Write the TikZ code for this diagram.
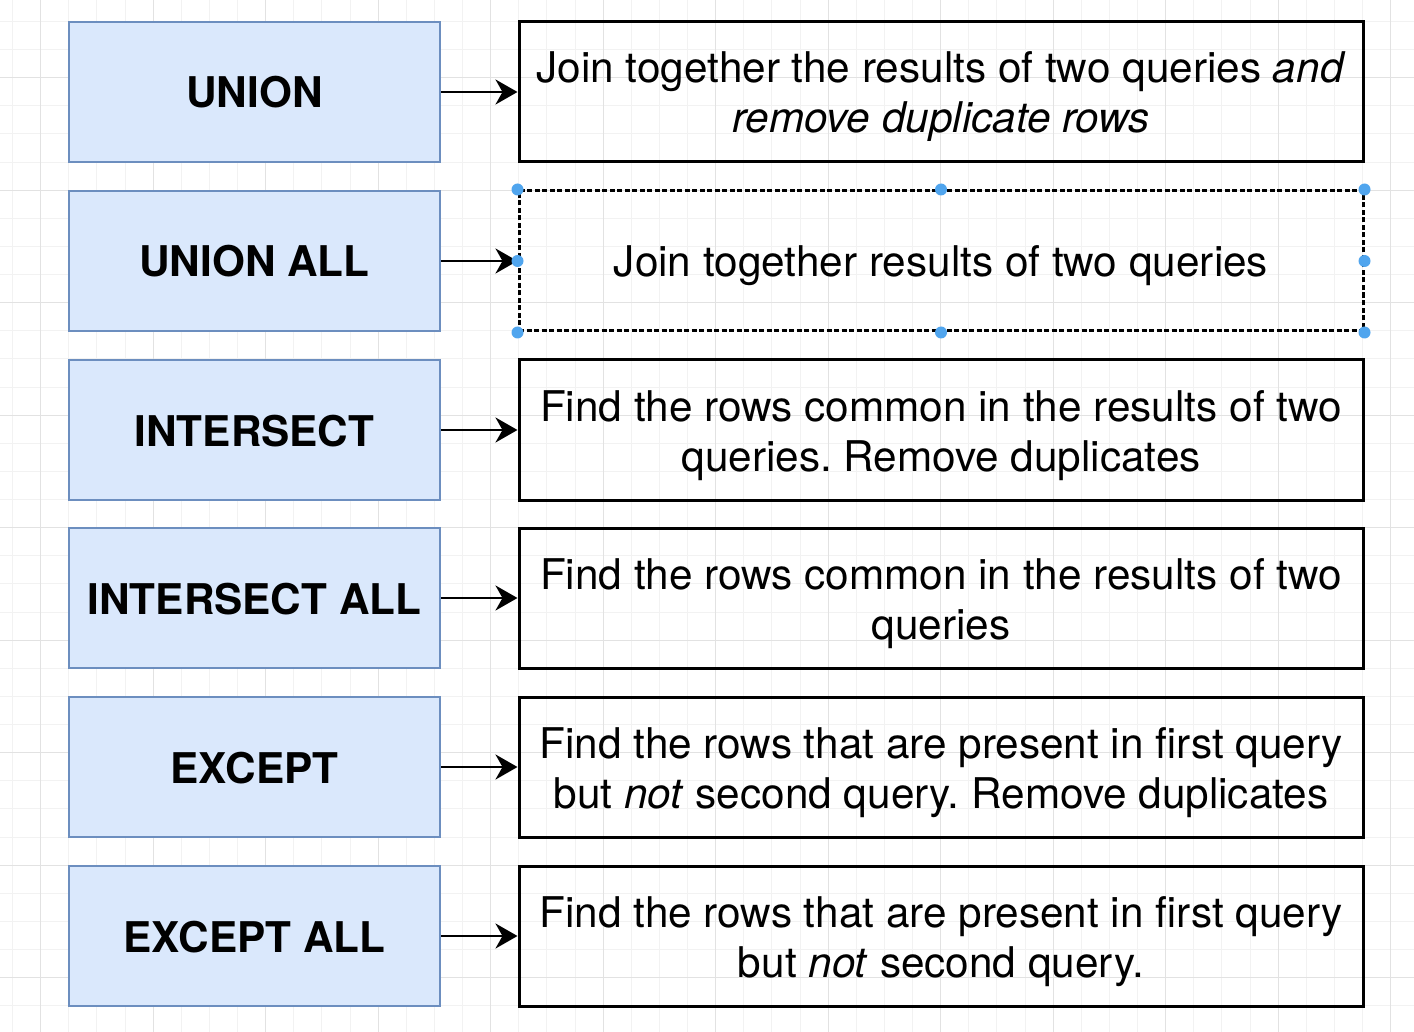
\documentclass[tikz,border=0pt]{standalone}
\usepackage{fontspec}
\setmainfont{TeX Gyre Heros}
\usetikzlibrary{arrows.meta}
\definecolor{opfill}{RGB}{218,232,252}
\definecolor{opline}{RGB}{108,142,191}
\definecolor{gridminor}{RGB}{242,242,242}
\definecolor{gridmajor}{RGB}{226,226,226}
\definecolor{handle}{RGB}{80,165,238}
\newcommand{\boxfont}{\fontsize{42.3}{50}\selectfont\frenchspacing}
\newcommand{\topline}{\rule{0pt}{42pt}}
\newcommand{\lowline}{\rule[-10pt]{0pt}{10pt}}
\tikzset{
  strut/.style={execute at begin node={\topline}, execute at end node={\lowline}},
  op/.style={draw=opline, fill=opfill, line width=2.5pt, minimum width=371pt, minimum height=140pt, inner sep=0pt, strut, font=\bfseries\boxfont},
  desc/.style={draw=black, line width=3pt, minimum width=844pt, minimum height=140pt, inner sep=0pt, align=center, strut, font=\boxfont},
  link/.style={line width=2.5pt, -{Stealth[length=22pt, width=25pt, inset=7pt]}},
  grip/.style={circle, fill=handle, minimum size=12pt, inner sep=0pt}
}
\begin{document}
\begin{tikzpicture}[x=1pt,y=1pt,yscale=-1,xscale=1]
\useasboundingbox (0,0) rectangle (1414,1032);
\fill[white] (0,0) rectangle (1414,1032);
% grid
\foreach \i in {0,...,50} \draw[gridminor, line width=1pt] (12.6+28.125*\i,0) -- (12.6+28.125*\i,1032);
\foreach \i in {0,...,37} \draw[gridminor, line width=1pt] (0,21.45+28.125*\i) -- (1414,21.45+28.125*\i);
\foreach \i in {0,...,12} \draw[gridmajor, line width=1pt] (40.7+112.5*\i,0) -- (40.7+112.5*\i,1032);
\foreach \i in {0,...,9} \draw[gridmajor, line width=1pt] (0,77.7+112.5*\i) -- (1414,77.7+112.5*\i);
% operators
\node[op] (union) at (254.5,92) {UNION};
\node[op] (unionall) at (254.5,261) {UNION ALL};
\node[op] (intersect) at (254.5,430) {INTERSECT};
\node[op] (intersectall) at (254.5,598) {INTERSECT ALL};
\node[op] (except) at (254.5,767) {EXCEPT};
\node[op] (exceptall) at (254.5,936) {EXCEPT ALL};
% descriptions
\node[desc] (unionD) at (941,92) {\topline Join together the results of two queries \textit{and}\\\textit{remove duplicate rows}\lowline};
\node[desc, dashed, dash pattern=on 5pt off 2.5pt] (unionallD) at (941,261) {Join together results of two queries};
\node[desc] (intersectD) at (941,430) {\topline Find the rows common in the results of two\\queries. Remove duplicates\lowline};
\node[desc] (intersectallD) at (941,598) {\topline Find the rows common in the results of two\\queries\lowline};
\node[desc] (exceptD) at (941,767) {\topline Find the rows that are present in first query\\but \textit{not} second query. Remove duplicates\lowline};
\node[desc] (exceptallD) at (941,936) {\topline Find the rows that are present in first query\\but \textit{not} second query.\lowline};
% arrows
\draw[link] (union.east) -- (unionD.west);
\draw[link] (unionall.east) -- (unionallD.west);
\draw[link] (intersect.east) -- (intersectD.west);
\draw[link] (intersectall.east) -- (intersectallD.west);
\draw[link] (except.east) -- (exceptD.west);
\draw[link] (exceptall.east) -- (exceptallD.west);
% selection handles
\foreach \a in {north west,north,north east,west,east,south west,south,south east}
  \node[grip] at (unionallD.\a) {};
\end{tikzpicture}
\end{document}
